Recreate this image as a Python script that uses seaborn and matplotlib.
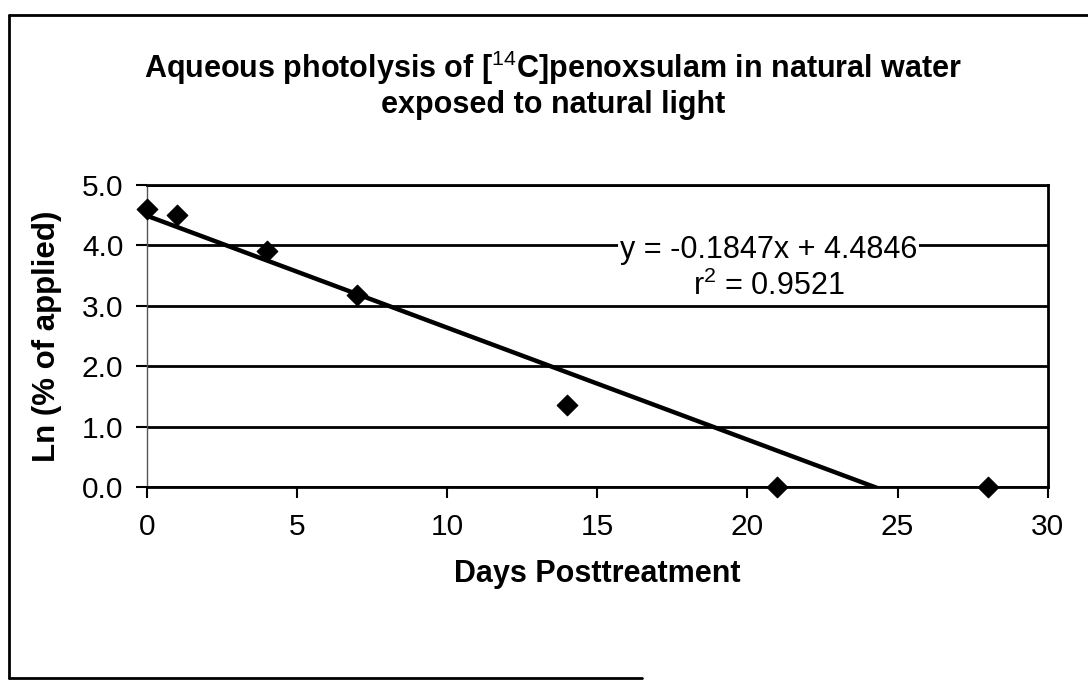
import matplotlib
matplotlib.use("Agg")
import matplotlib.pyplot as plt
import seaborn as sns
import pandas as pd
from matplotlib.lines import Line2D

days = [0, 1, 4, 7, 14, 21, 28]
ln_applied = [4.60, 4.50, 3.90, 3.17, 1.35, 0.0, 0.0]
x_ticks = [0, 5, 10, 15, 20, 25, 30]
y_ticks = [0.0, 1.0, 2.0, 3.0, 4.0, 5.0]
title = "Aqueous photolysis of [$^{14}$C]penoxsulam in natural water\nexposed to natural light"
x_label = "Days Posttreatment"
y_label = "Ln (% of applied)"
eq_text = "y = -0.1847x + 4.4846"
r2_text = "r$^2$ = 0.9521"

df = pd.DataFrame({"days": days, "ln": ln_applied})

sns.set_theme(style="white")
plt.rcParams["font.family"] = ["Liberation Sans", "DejaVu Sans"]
plt.rcParams["mathtext.fontset"] = "custom"
plt.rcParams["mathtext.rm"] = "Liberation Sans"
plt.rcParams["mathtext.bf"] = "Liberation Sans:bold"
for key in ["text.color", "axes.labelcolor", "xtick.color", "ytick.color"]:
    plt.rcParams[key] = "black"

fig = plt.figure(figsize=(10.88, 6.84), dpi=100)
ax = fig.add_axes([0.135, 0.288, 0.828, 0.442])

sns.regplot(data=df, x="days", y="ln", scatter=False, ci=None, ax=ax,
            line_kws=dict(color="black", lw=3.2, zorder=3))
sns.scatterplot(data=df, x="days", y="ln", marker="D", s=110, color="black",
                edgecolor="black", ax=ax, zorder=4, clip_on=False)

ax.set_xlim(0, 30)
ax.set_ylim(0, 5)
ax.set_xticks(x_ticks)
ax.set_yticks(y_ticks)
ax.set_xticklabels([str(v) for v in x_ticks], fontsize=21.5)
ax.set_yticklabels([f"{v:.1f}" for v in y_ticks], fontsize=21.5)
ax.tick_params(axis="both", direction="out", length=8, width=1.5, color="black",
               left=True, bottom=True)
ax.tick_params(axis="x", pad=11)
ax.tick_params(axis="y", pad=9)
for v in y_ticks:
    ax.axhline(v, color="black", lw=2, zorder=1)
for side in ["top", "right", "bottom"]:
    ax.spines[side].set_visible(True)
    ax.spines[side].set_color("black")
    ax.spines[side].set_linewidth(2)
ax.spines["left"].set_color("#555555")
ax.spines["left"].set_linewidth(1)

ax.set_xlabel(x_label, fontsize=22, fontweight="bold", labelpad=13)
ax.set_ylabel(y_label, fontsize=22.5, fontweight="bold", labelpad=14)

ax.text(0.69, 0.785, eq_text, transform=ax.transAxes, ha="center", va="center",
        fontsize=22, zorder=5, bbox=dict(facecolor="white", edgecolor="none", pad=1))
ax.text(0.69, 0.665, r2_text, transform=ax.transAxes, ha="center", va="center",
        fontsize=22, zorder=5)

fig.text(0.508, 0.877, title, ha="center", va="center", fontsize=22,
         fontweight="bold", linespacing=1.12)

# outer frame of the chart
fig.add_artist(Line2D([0.008, 1.0], [0.978, 0.978], color="black", lw=2))
fig.add_artist(Line2D([0.008, 0.008], [0.009, 0.978], color="black", lw=2))
fig.add_artist(Line2D([0.008, 0.59], [0.009, 0.009], color="black", lw=2))

fig.savefig("out.png", dpi=100, facecolor="white")
